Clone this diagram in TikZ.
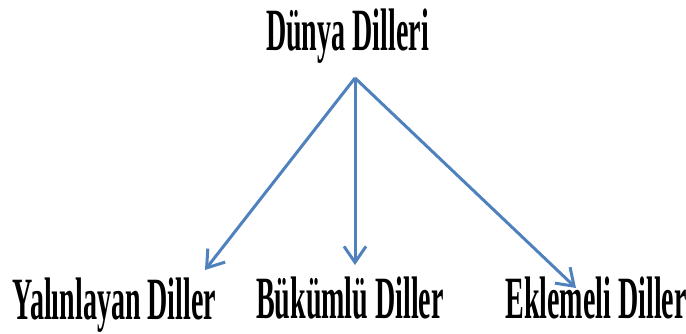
\documentclass[tikz,border=0pt]{standalone}
\usepackage{fontspec}
\usepackage{graphicx}
\setmainfont{Liberation Serif}
\usetikzlibrary{arrows.meta}
\definecolor{arrowblue}{RGB}{79,129,189}
\tikzset{
  lbl/.style={anchor=base, inner sep=0pt, font=\fontsize{60}{64}\selectfont\bfseries},
  conn/.style={draw=arrowblue, line width=3pt, -{Straight Barb[length=16pt,width=22pt,line width=3pt]}}
}
\newcommand{\sq}[1]{\scalebox{0.467}[1]{#1}}
\begin{document}
\begin{tikzpicture}[x=1pt,y=-1pt]
\useasboundingbox (0,0) rectangle (686,333);
\node[lbl] (root) at (347.5,50) {\sq{Dünya Dilleri}};
\node[lbl] (yal) at (114.5,319) {\sq{Yalınlayan Diller}};
\node[lbl] (buk) at (350,318) {\sq{Bükümlü Diller}};
\node[lbl] (ekl) at (596,318) {\sq{Eklemeli Diller}};
\coordinate (apex) at (355,78);
\coordinate (tyal) at (205,270);
\coordinate (tbuk) at (355,265);
\coordinate (tekl) at (576,288);
\draw[conn] (apex) -- (tyal);
\draw[conn] (apex) -- (tbuk);
\draw[conn] (apex) -- (tekl);
\end{tikzpicture}
\end{document}
